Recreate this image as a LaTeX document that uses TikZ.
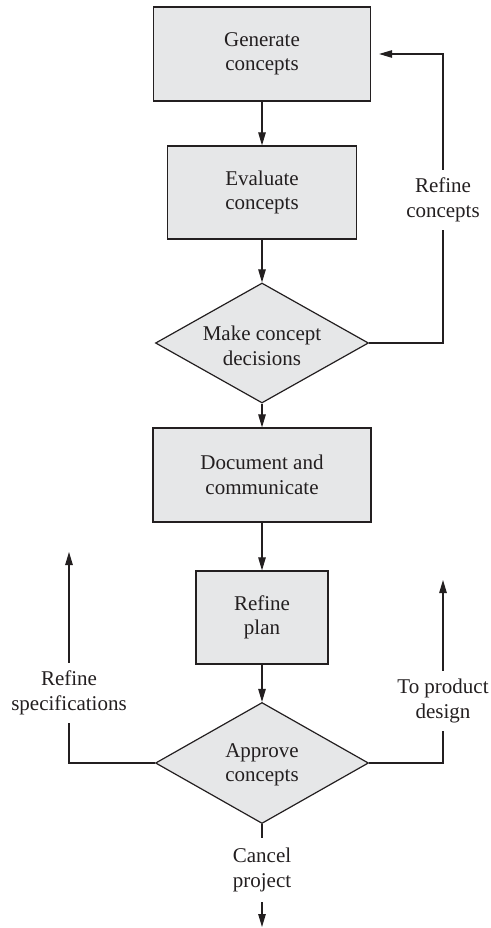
\documentclass[tikz,border=0pt]{standalone}
\usepackage{fontspec}
\setmainfont{Liberation Serif}
\usetikzlibrary{arrows.meta,shapes.geometric}
\definecolor{boxfill}{HTML}{E6E7E8}
\definecolor{ink}{HTML}{231F20}
\tikzset{
  x=1pt,y=-1pt,
  every node/.style={font=\fontsize{21}{24.5}\selectfont, text=ink, align=center},
  stepbox/.style={draw=ink, fill=boxfill, line width=1.2pt, rectangle, inner sep=0pt},
  dia/.style={draw=ink, fill=boxfill, line width=1.2pt, diamond, inner sep=0pt, aspect=1.77},
  arr/.style={draw=ink, line width=1.1pt, -{Triangle[length=13pt,width=7.5pt]}},
  ln/.style={draw=ink, line width=1.1pt},
  lab/.style={fill=white, inner sep=0pt, minimum height=60pt},
}
\begin{document}
\begin{tikzpicture}
\useasboundingbox (0,0) rectangle (490,928);
\node[stepbox, minimum width=217pt, minimum height=94pt] (gen) at (262,54) {Generate\\concepts};
\node[stepbox, minimum width=189pt, minimum height=93pt] (eval) at (262,192.5) {Evaluate\\concepts};
\node[dia, minimum width=213pt, minimum height=120pt] (d1) at (262,343) {};
\node (d1t) at (262,346) {Make concept\\decisions};
\node[stepbox, minimum width=218pt, minimum height=94pt] (doc) at (262,475) {Document and\\communicate};
\node[stepbox, minimum width=132pt, minimum height=93pt] (plan) at (262,617.5) {Refine\\plan};
\node[dia, minimum width=213pt, minimum height=121pt] (d2) at (262,763) {};
\node (d2t) at (262,765) {Approve\\concepts};

\draw[arr] (gen) -- (eval);
\draw[arr] (eval) -- (d1);
\draw[arr] (d1) -- (doc);
\draw[arr] (doc) -- (plan);
\draw[arr] (plan) -- (d2);

% refine concepts loop
\coordinate (rc) at (443,54);
\draw[arr, shorten >=8pt] (d1.east) -| (rc) -- (gen.east);
\node[lab] (lrc) at (443,200) {Refine\\concepts};

% refine specifications
\coordinate (ls) at (69,552);
\draw[arr] (d2.west) -| (ls);
\node[lab] (lrs) at (69,693) {Refine\\specifications};

% to product design
\coordinate (rs) at (443,580);
\draw[arr] (d2.east) -| (rs);
\node[lab] (lpd) at (443,701) {To product\\design};

% cancel project
\coordinate (cp) at (262,927);
\draw[arr] (d2.south) -- (cp);
\node[lab, minimum height=64pt] (lcp) at (262,870) {Cancel\\project};
\end{tikzpicture}
\end{document}
